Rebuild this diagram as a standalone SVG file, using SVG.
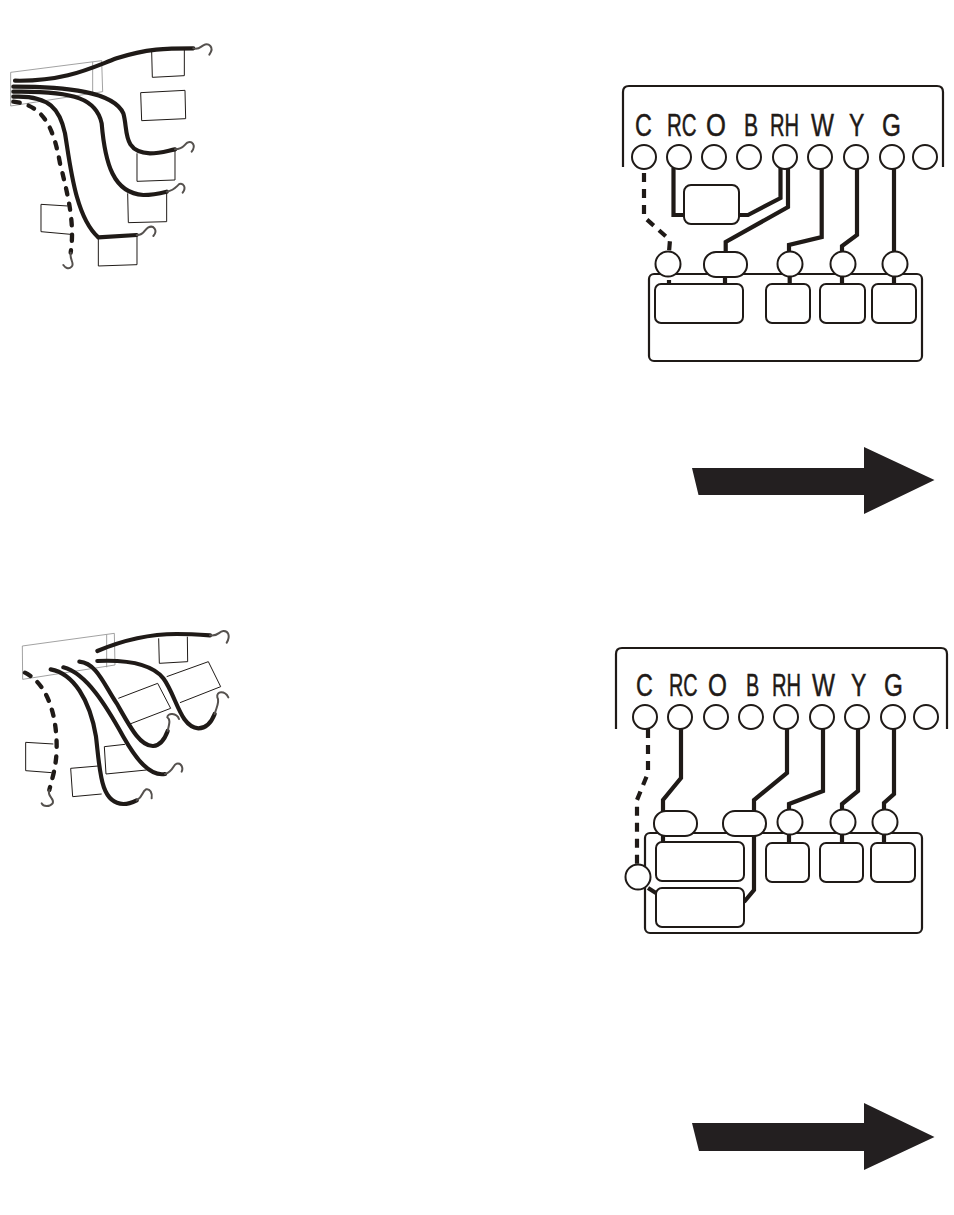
<svg xmlns="http://www.w3.org/2000/svg" width="954" height="1215" viewBox="0 0 954 1215">
<style>
.bg{fill:#fff}
.pale{fill:none;stroke:#8a8a8a;stroke-width:2.4}
.box{fill:none;stroke:#1f1a17;stroke-width:3}
.w{fill:none;stroke:#1f1a17;stroke-width:12.500;stroke-linecap:round;stroke-linejoin:round}
.d{fill:none;stroke:#1f1a17;stroke-width:13;stroke-linecap:round;stroke-dasharray:19 28}
.h{fill:none;stroke:#55514e;stroke-width:6;stroke-linecap:round}
.t{fill:#fff;stroke:#1f1a17;stroke-width:2}
.b{fill:#fff;stroke:#1f1a17;stroke-width:2}
.o{fill:none;stroke:#1f1a17;stroke-width:2.200}
.l{fill:none;stroke:#1f1a17;stroke-width:4.200;stroke-linejoin:miter}
.ld{fill:none;stroke:#1f1a17;stroke-width:4.200;stroke-dasharray:9 7}
text{font-family:"Liberation Sans",Arial,sans-serif;font-size:32px;fill:#1f1a17;stroke:#1f1a17;stroke-width:.5}
.arrow{fill:#231f20}
</style>
<rect class="bg" width="954" height="1215"/>

<g id="harness-1" transform="translate(0 30) scale(.33333)">
<path class="pale" d="M32 127L305 92L308 185L32 228ZM278 96V190"/>
<path class="box" d="M455 65L457 142L553 137L553 60"/>
<path class="box" d="M422 188L425 272L557 266L555 181Z"/>
<path class="box" d="M411 370L411 454L525 450L525 362"/>
<path class="box" d="M383 490L385 578L500 575L500 488"/>
<path class="box" d="M295 625L295 708L411 704L411 618"/>
<path class="box" d="M203 528L123 523L123 605L212 613"/>
<g id="harness-1-wires">
<path class="w" d="M45 152C200 155 280 110 350 85C440 55 500 55 580 55"/>
<path class="w" d="M40 170C200 170 340 185 370 250C385 300 365 365 450 370C480 370 500 363 525 358"/>
<path class="w" d="M40 185C230 182 290 210 305 280C315 400 340 490 430 495C460 495 480 490 500 485"/>
<path class="w" d="M40 200C150 195 180 240 195 310C210 400 225 560 295 622L410 615"/>
<path class="d" d="M40 215C130 225 160 290 180 400C205 500 225 580 212 668"/>
<path class="h" d="M580 55C595 60 600 52 610 46C625 38 645 50 628 74"/>
<path class="h" d="M525 358C550 358 552 345 562 338C575 332 590 345 575 365"/>
<path class="h" d="M500 485C525 480 528 470 538 462C550 458 560 472 548 488"/>
<path class="h" d="M410 615C430 618 432 600 445 592C460 585 475 600 460 618"/>
<path class="h" d="M212 668C208 690 225 700 215 710C205 720 195 712 190 705"/>
</g>
</g>

<g id="harness-2" transform="translate(10 620) scale(.33333)">
<path class="pale" d="M37 78L313 40L315 135L38 178ZM290 44V142"/>
<path class="box" d="M532 50L533 125L448 130L446 55"/>
<path class="box" d="M325 235L443 190L482 265L360 312"/>
<path class="box" d="M470 170L595 125L632 200L510 248"/>
<path class="box" d="M345 373L283 380L288 462L410 450"/>
<path class="box" d="M265 438L182 445L188 530L275 522"/>
<path class="box" d="M130 372L47 367L47 452L125 458"/>
<g id="harness-2-wires">
<path class="w" d="M262 93C340 60 420 42 500 42C540 42 570 44 600 46"/>
<path class="w" d="M262 123C330 120 420 125 460 175C500 230 510 320 565 325C590 325 605 305 614 282"/>
<path class="w" d="M208 125C260 130 280 190 320 250C360 320 390 380 430 378C452 376 465 355 473 333"/>
<path class="w" d="M160 142C230 160 290 260 340 350C380 420 420 470 465 462"/>
<path class="w" d="M122 148C190 160 240 240 258 350C270 450 270 550 340 552C355 552 368 547 380 541"/>
<path class="d" d="M45 158C110 190 140 280 140 380C140 440 125 480 118 510"/>
<path class="h" d="M600 46C625 50 625 35 640 33C655 32 662 48 650 68"/>
<path class="h" d="M614 282C620 260 630 245 622 232C618 212 645 212 655 232"/>
<path class="h" d="M473 333C478 310 482 300 472 292C472 278 500 278 507 297"/>
<path class="h" d="M465 462C490 455 488 435 500 431C515 428 520 445 515 455"/>
<path class="h" d="M380 541C400 530 395 515 408 508C420 505 428 520 425 535"/>
<path class="h" d="M118 510C110 530 135 535 128 550C118 562 100 560 95 550"/>
</g>
</g>

<g id="panel-1">
<path class="o" d="M623 167V92Q623 86 629 86H937Q943 86 943 92V167"/>
<text transform="translate(635 136) scale(.73 1)">C</text>
<text transform="translate(667 136) scale(.64 1)">RC</text>
<text transform="translate(706 136) scale(.8 1)">O</text>
<text transform="translate(744 136) scale(.66 1)">B</text>
<text transform="translate(770 136) scale(.63 1)">RH</text>
<text transform="translate(811 136) scale(.76 1)">W</text>
<text transform="translate(849 136) scale(.72 1)">Y</text>
<text transform="translate(882 136) scale(.76 1)">G</text>
</g>
<g id="unit-1"><rect class="o" x="649" y="274" width="273" height="87" rx="5"/></g>
<g id="connectors-1">
<path class="ld" d="M644 173V217L670 240L669 252"/>
<path class="l" d="M673.500 168V215H685"/>
<path class="l" d="M780.500 168V198L748 215H739"/>
<path class="l" d="M788 168V207L725.700 242V252"/>
<path class="l" d="M821.700 169V237L789 245V252"/>
<path class="l" d="M857 169V235L842 246V252"/>
<path class="l" d="M894 169V252"/>
<path class="l" d="M725 277V284M789.700 277V284M842 277V284M894 277V284"/>
<path class="l" stroke-dasharray="3 3" d="M669 280V283"/>
</g>
<g id="p1-c"><circle class="t" cx="644" cy="157" r="12"/></g>
<g id="p1-rc"><circle class="t" cx="679" cy="157" r="12"/></g>
<g id="p1-o"><circle class="t" cx="714" cy="157" r="12"/></g>
<g id="p1-b"><circle class="t" cx="749" cy="157" r="12"/></g>
<g id="p1-rh"><circle class="t" cx="785" cy="157" r="12"/></g>
<g id="p1-w"><circle class="t" cx="820" cy="157" r="12"/></g>
<g id="p1-y"><circle class="t" cx="856" cy="157" r="12"/></g>
<g id="p1-g"><circle class="t" cx="892" cy="157" r="12"/></g>
<g id="p1-x"><circle class="t" cx="925" cy="157" r="12"/></g>
<g id="p1-relay"><rect class="b" x="684" y="185" width="55" height="39" rx="7"/></g>
<g id="p1-n1"><circle class="t" cx="668" cy="264" r="12.500"/></g>
<g id="p1-n2"><rect class="t" x="704" y="252" width="43" height="25" rx="12"/></g>
<g id="p1-n3"><circle class="t" cx="790" cy="264" r="12.500"/></g>
<g id="p1-n4"><circle class="t" cx="843" cy="264" r="12.500"/></g>
<g id="p1-n5"><circle class="t" cx="895" cy="264" r="12.500"/></g>
<g id="p1-b1"><rect class="b" x="655" y="284" width="88" height="39" rx="6"/></g>
<g id="p1-b2"><rect class="b" x="766" y="284" width="44" height="39" rx="6"/></g>
<g id="p1-b3"><rect class="b" x="820" y="284" width="45" height="39" rx="6"/></g>
<g id="p1-b4"><rect class="b" x="872" y="284" width="44" height="39" rx="6"/></g>

<g id="arrow-1"><path class="arrow" d="M692 468H864V447L934.500 480L864 514V495H698.500Z"/></g>

<g id="panel-2">
<path class="o" d="M616 729V654Q616 648 622 648H941Q947 648 947 654V729"/>
<text transform="translate(636 696) scale(.73 1)">C</text>
<text transform="translate(669 696) scale(.62 1)">RC</text>
<text transform="translate(708 696) scale(.76 1)">O</text>
<text transform="translate(746 696) scale(.62 1)">B</text>
<text transform="translate(772 696) scale(.63 1)">RH</text>
<text transform="translate(812 696) scale(.76 1)">W</text>
<text transform="translate(851 696) scale(.72 1)">Y</text>
<text transform="translate(884 696) scale(.76 1)">G</text>
</g>
<g id="unit-2"><rect class="o" x="645" y="833" width="277" height="100" rx="5"/></g>
<g id="connectors-2">
<path class="ld" d="M648 729V773L637 800V864"/>
<path class="l" d="M648 888L656 893"/>
<path class="l" d="M681 729V778L663 800V811"/>
<path class="l" d="M787 729V773L754 800V811"/>
<path class="l" d="M823 729V791L789 804V810"/>
<path class="l" d="M858 729V791L842 804V810"/>
<path class="l" d="M894 729V794L884 803V810"/>
<path class="l" d="M663 836V842M789 835V843M842 835V843M884 835V843"/>
<path class="l" stroke-width="2.800" d="M754 836V890L744 902"/>
</g>
<g id="p2-c"><circle class="t" cx="645" cy="717" r="12"/></g>
<g id="p2-rc"><circle class="t" cx="680" cy="717" r="12"/></g>
<g id="p2-o"><circle class="t" cx="716" cy="717" r="12"/></g>
<g id="p2-b"><circle class="t" cx="751" cy="717" r="12"/></g>
<g id="p2-rh"><circle class="t" cx="786" cy="717" r="12"/></g>
<g id="p2-w"><circle class="t" cx="822" cy="717" r="12"/></g>
<g id="p2-y"><circle class="t" cx="857" cy="717" r="12"/></g>
<g id="p2-g"><circle class="t" cx="893" cy="717" r="12"/></g>
<g id="p2-x"><circle class="t" cx="926" cy="717" r="12"/></g>
<g id="p2-n1"><rect class="t" x="654" y="811" width="43" height="25" rx="12"/></g>
<g id="p2-n2"><rect class="t" x="723" y="811" width="43" height="25" rx="12"/></g>
<g id="p2-n3"><circle class="t" cx="790" cy="822" r="12.500"/></g>
<g id="p2-n4"><circle class="t" cx="843" cy="822" r="12.500"/></g>
<g id="p2-n5"><circle class="t" cx="885" cy="822" r="12.500"/></g>
<g id="p2-n6"><circle class="t" cx="638" cy="877" r="12.500"/></g>
<g id="p2-b1"><rect class="b" x="656" y="842" width="88" height="39" rx="6"/></g>
<g id="p2-b2"><rect class="b" x="656" y="888" width="88" height="39" rx="6"/></g>
<g id="p2-b3"><rect class="b" x="766" y="843" width="43" height="39" rx="6"/></g>
<g id="p2-b4"><rect class="b" x="820" y="843" width="43" height="39" rx="6"/></g>
<g id="p2-b5"><rect class="b" x="871" y="843" width="44" height="39" rx="6"/></g>

<g id="arrow-2"><path class="arrow" d="M692 1123H864V1103L934.500 1137L864 1170V1151H699Z"/></g>
</svg>
